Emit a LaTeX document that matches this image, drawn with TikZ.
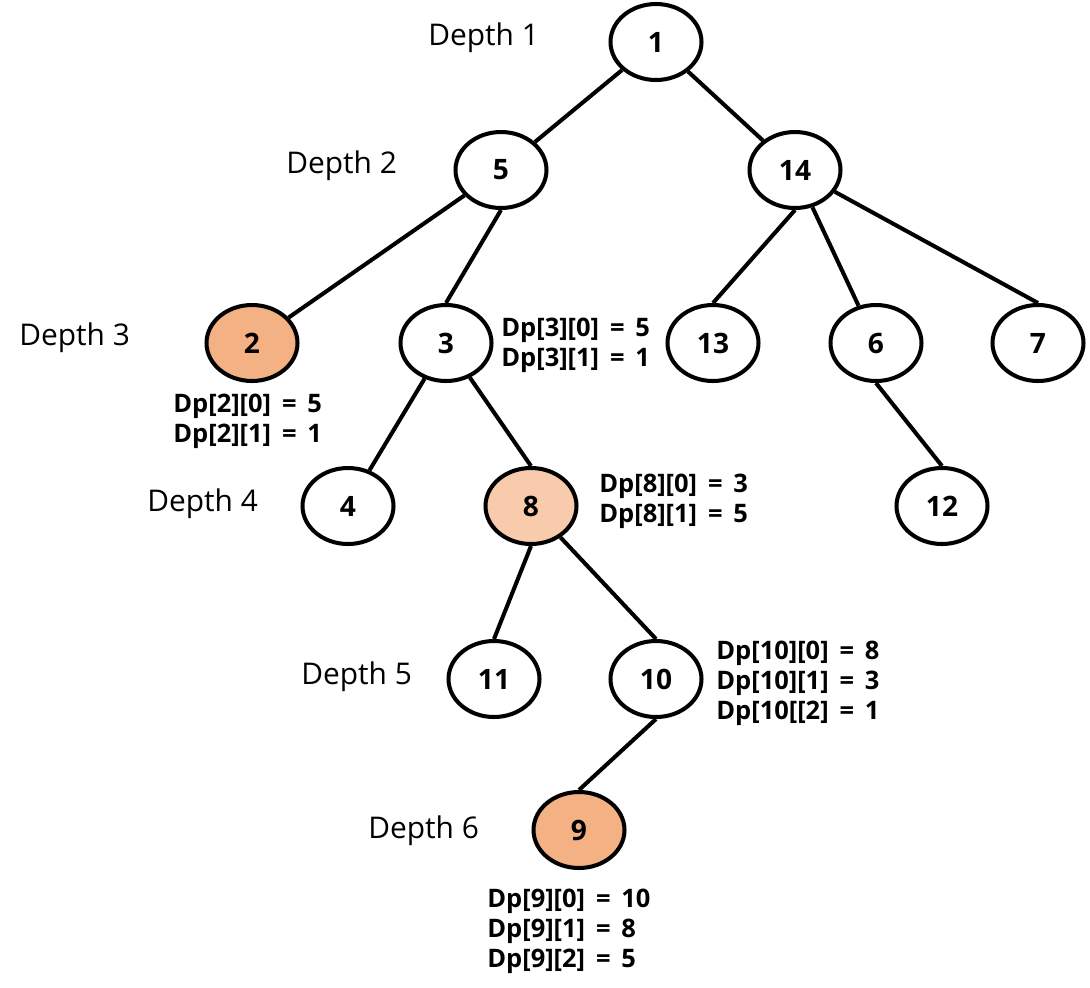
\documentclass[tikz,border=0pt]{standalone}
\usepackage{fontspec}
\setmainfont{Open Sans}
\usetikzlibrary{shapes.geometric}
\definecolor{NodeOrange}{HTML}{F4B183}
\definecolor{NodePeach}{HTML}{F8CBAD}

\begin{document}
\begin{tikzpicture}[x=0.02cm,y=-0.02cm,
  vert/.style={ellipse,draw,line width=2.3pt,minimum width=1.82cm,minimum height=1.52cm,inner sep=0pt,font=\fontsize{16}{19}\selectfont\bfseries},
  depthlbl/.style={anchor=west,inner sep=0pt,font=\fontsize{17}{20}\selectfont},
  dplbl/.style={anchor=west,align=left,inner sep=0pt,font=\fontsize{14.5}{17}\selectfont\bfseries},
  edge/.style={line width=2.3pt}]
  \useasboundingbox (0,0) rectangle (1090,988);
  % vertices
  \node[vert] (n1) at (656,42) {1};
  \node[vert] (n5) at (501,170) {5};
  \node[vert] (n14) at (795,170) {14};
  \node[vert,fill=NodeOrange] (n2) at (252,343) {2};
  \node[vert] (n3) at (446,343) {3};
  \node[vert] (n13) at (713,343) {13};
  \node[vert] (n6) at (876,343) {6};
  \node[vert] (n7) at (1038,343) {7};
  \node[vert] (n4) at (348,506) {4};
  \node[vert,fill=NodePeach] (n8) at (531,506) {8};
  \node[vert] (n12) at (942,506) {12};
  \node[vert] (n11) at (494,679) {11};
  \node[vert] (n10) at (656,679) {10};
  \node[vert,fill=NodeOrange] (n9) at (579,830) {9};
  % edges
  \draw[edge] (n1) -- (n5);
  \draw[edge] (n1) -- (n14);
  \draw[edge] (n5) -- (n2);
  \draw[edge] (n5.south) -- (n3.north);
  \draw[edge] (n14.south) -- (n13.north);
  \draw[edge] (n14) -- (n6);
  \draw[edge] (n14) -- (n7.north);
  \draw[edge] (n3) -- (n4);
  \draw[edge] (n3) -- (n8.north);
  \draw[edge] (n6.south) -- (n12.north);
  \draw[edge] (n8.south) -- (n11.north);
  \draw[edge] (n8) -- (n10.north);
  \draw[edge] (n10.south) -- (n9.north);
  % depth labels
  \node[depthlbl] (d1) at (428,38) {Depth 1};
  \node[depthlbl] (d2) at (286,166) {Depth 2};
  \node[depthlbl] (d3) at (19,338) {Depth 3};
  \node[depthlbl] (d4) at (147,504) {Depth 4};
  \node[depthlbl] (d5) at (301,677) {Depth 5};
  \node[depthlbl] (d6) at (368,831) {Depth 6};
  % dp values
  \node[dplbl] (dp2) at (173,421) {Dp[2][0] \,=\, 5\\Dp[2][1] \,=\, 1};
  \node[dplbl] (dp3) at (501,345) {Dp[3][0] \,=\, 5\\Dp[3][1] \,=\, 1};
  \node[dplbl] (dp8) at (599,501) {Dp[8][0] \,=\, 3\\Dp[8][1] \,=\, 5};
  \node[dplbl] (dp10) at (716,683) {Dp[10][0] \,=\, 8\\Dp[10][1] \,=\, 3\\Dp[10[[2] \,=\, 1};
  \node[dplbl] (dp9) at (487,931) {Dp[9][0] \,=\, 10\\Dp[9][1] \,=\, 8\\Dp[9][2] \,=\, 5};
\end{tikzpicture}
\end{document}
